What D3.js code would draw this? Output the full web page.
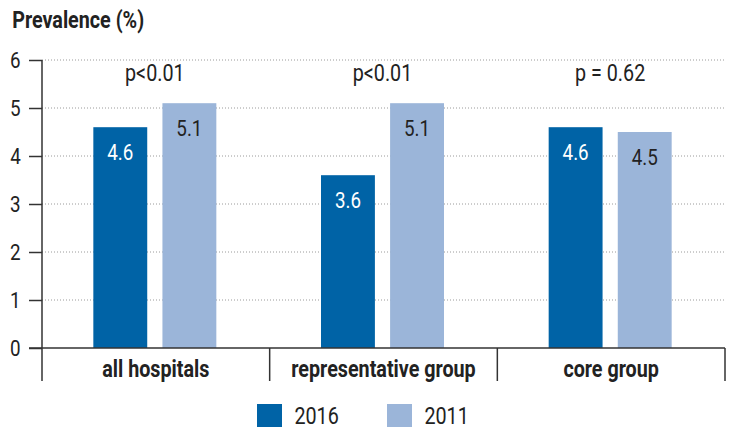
<!DOCTYPE html>
<html><head><meta charset="utf-8">
<script src="https://cdn.jsdelivr.net/npm/d3@7"></script>
<style>
body{margin:0;background:#fff;}
text{font-family:Roboto,"Liberation Sans",sans-serif;transform-box:fill-box;transform-origin:center;transform:scale(0.94,1.12);}
</style></head>
<body><svg id="c" width="736" height="437"></svg>
<script>
const categories = ["all hospitals","representative group","core group"];
const seriesNames = ["2016","2011"];
const values2016 = [4.6, 3.6, 4.6];
const values2011 = [5.1, 5.1, 4.5];
const pLabels = ["p<0.01","p<0.01","p = 0.62"];
const yTicks = [0,1,2,3,4,5,6];
const colors = ["#0063a6","#9bb5d9"];

(function(){
const svg = d3.select("#c");
const pL=42, pR=725, pT=60, pB=348;
const y = d3.scaleLinear().domain([0,6]).range([pB,pT]);
const x = d3.scaleBand().domain(categories).range([pL,pR]).padding(0);
const inner = d3.scaleBand().domain(seriesNames).range([0,123]).paddingInner(0.22);

// gridlines
svg.append("g").selectAll("line").data(yTicks.filter(d=>d>0)).join("line")
  .attr("x1",pL).attr("x2",pR).attr("y1",d=>y(d)).attr("y2",d=>y(d))
  .attr("stroke","#9a9a9a").attr("stroke-width",1).attr("stroke-dasharray","1,2");

// bars
const data = categories.map((c,i)=>({c, vals:[{s:"2016",v:values2016[i]},{s:"2011",v:values2011[i]}]}));
const g = svg.append("g").selectAll("g").data(data).join("g")
  .attr("transform",d=>`translate(${x(d.c)+x.bandwidth()/2-62.5},0)`);
g.selectAll("rect").data(d=>d.vals).join("rect")
  .attr("x",d=>inner(d.s)).attr("width",inner.bandwidth())
  .attr("y",d=>y(d.v)).attr("height",d=>y(0)-y(d.v))
  .attr("fill",(d,i)=>colors[i]);
g.selectAll("text.v").data(d=>d.vals).join("text").attr("class","v")
  .attr("x",d=>inner(d.s)+inner.bandwidth()/2).attr("y",d=>y(d.v)+25)
  .attr("text-anchor","middle").attr("dominant-baseline","central")
  .attr("font-size",20).attr("fill",(d,i)=>i===0?"#fff":"#222")
  .text(d=>d.v.toFixed(1));

// p labels
svg.append("g").selectAll("text").data(categories).join("text")
  .attr("x",d=>x(d)+x.bandwidth()/2-1).attr("y",73)
  .attr("text-anchor","middle").attr("dominant-baseline","central")
  .attr("font-size",21).attr("fill","#222").text((d,i)=>pLabels[i]);

// y axis
const yAxis = svg.append("g").attr("transform",`translate(${pL},0)`)
  .call(d3.axisLeft(y).tickValues(yTicks).tickFormat(d3.format("d")).tickSize(13).tickPadding(8));
yAxis.select(".domain").attr("stroke","#333").attr("stroke-width",1.5).attr("d",`M0,${pT}V${pB+33}`);
yAxis.selectAll(".tick line").attr("stroke","#333").attr("stroke-width",1.5);
yAxis.selectAll(".tick text").attr("font-size",20).attr("fill","#222")
  .attr("font-family",'Roboto,"Liberation Sans",sans-serif');

// x axis baseline
svg.append("line").attr("x1",29).attr("x2",pR).attr("y1",pB).attr("y2",pB)
  .attr("stroke","#333").attr("stroke-width",1.5);
// separators
svg.append("g").selectAll("line").data(categories).join("line")
  .attr("x1",d=>x(d)+x.bandwidth()).attr("x2",d=>x(d)+x.bandwidth())
  .attr("y1",pB).attr("y2",pB+33).attr("stroke","#333").attr("stroke-width",1.5);
// category labels
svg.append("g").selectAll("text").data(categories).join("text")
  .attr("x",d=>x(d)+x.bandwidth()/2).attr("y",369)
  .attr("text-anchor","middle").attr("dominant-baseline","central")
  .attr("font-size",21).attr("font-weight","bold").attr("fill","#222").text(d=>d);

// title
svg.append("text").attr("x",8).attr("y",20).attr("dominant-baseline","central")
  .attr("font-size",21).attr("font-weight","bold").attr("fill","#222").text("Prevalence (%)");

// legend
const lx = [257,387];
const lg = svg.append("g").selectAll("g").data(seriesNames).join("g")
  .attr("transform",(d,i)=>`translate(${lx[i]},404)`);
lg.append("rect").attr("width",25).attr("height",23).attr("fill",(d,i)=>colors[i]);
lg.append("text").attr("x",36).attr("y",12).attr("dominant-baseline","central")
  .attr("font-size",21).attr("fill","#222").text(d=>d);
})();
</script></body></html>
